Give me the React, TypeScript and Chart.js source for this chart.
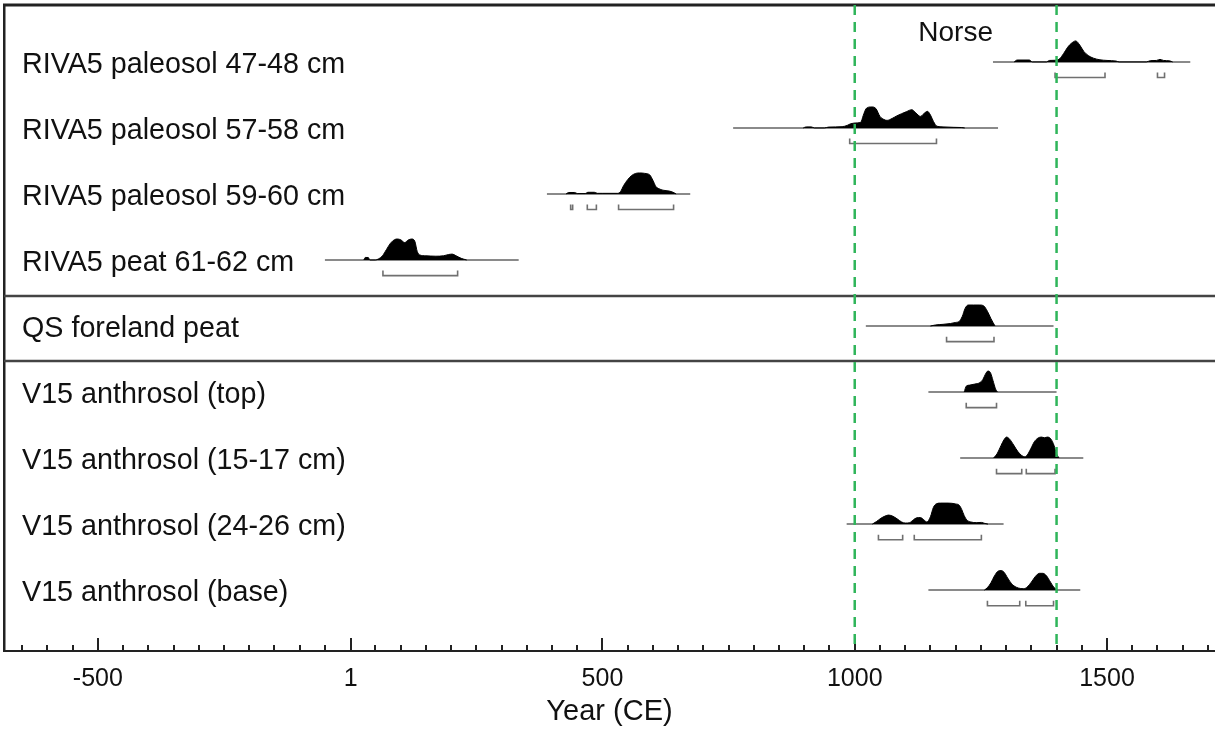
import React, { useEffect, useRef } from 'react';
import { Chart, registerables } from 'chart.js';

Chart.register(...registerables);

const FONT = '"Liberation Sans", Arial, Helvetica, sans-serif';

// ---- axis ----
const X_MIN = -686;
const X_MAX = 1714;
const MAJOR_TICKS = [-500, 1, 500, 1000, 1500];
const MINOR_TICK_START = -650;
const MINOR_TICK_END = 1700;
const MINOR_TICK_STEP = 50;
const X_TITLE = 'Year (CE)';

// ---- rows ----
const ROW_LABELS = [
  'RIVA5 paleosol 47-48 cm',
  'RIVA5 paleosol 57-58 cm',
  'RIVA5 paleosol 59-60 cm',
  'RIVA5 peat 61-62 cm',
  'QS foreland peat',
  'V15 anthrosol (top)',
  'V15 anthrosol (15-17 cm)',
  'V15 anthrosol (24-26 cm)',
  'V15 anthrosol (base)',
];
const Y_MIN = -0.862;
const Y_MAX = 8.922;
const GROUP_BREAKS = [3.54, 4.53];

// ---- Norse period ----
const NORSE_START = 1000;
const NORSE_END = 1400;
const NORSE_LABEL = 'Norse';
const NORSE_LABEL_ROW = -0.44;

// ---- extent of each calibration (grey line) ----
const RANGE_START = [1274, 759, 390, -50, 1022, 1146, 1209, 984, 1146];
const RANGE_END = [1665, 1284, 674, 334, 1394, 1400, 1453, 1295, 1447];

// ---- probability distributions (year, relative density) ----
const YEARS_R0 = [1316, 1322, 1346, 1352, 1380, 1386, 1400, 1406, 1414, 1422, 1430, 1438, 1446, 1454, 1463, 1473, 1486, 1500, 1518, 1524, 1578, 1586, 1598, 1605, 1612, 1624, 1630];
const DENS_R0 = [0, 0.09, 0.09, 0, 0, 0.07, 0.08, 0.15, 0.4, 0.7, 0.9, 1.0, 0.8, 0.5, 0.3, 0.18, 0.1, 0.07, 0.04, 0, 0, 0.06, 0.07, 0.12, 0.07, 0.05, 0];

const YEARS_R1 = [898, 904, 914, 920, 940, 948, 975, 985, 992, 1005, 1012, 1017, 1022, 1028, 1034, 1042, 1050, 1058, 1064, 1074, 1083, 1093, 1103, 1113, 1121, 1130, 1137, 1144, 1150, 1156, 1163, 1175, 1195, 1212, 1218];
const DENS_R1 = [0, 0.05, 0.05, 0, 0, 0.04, 0.06, 0.12, 0.2, 0.24, 0.27, 0.6, 0.9, 0.99, 1.0, 0.92, 0.55, 0.4, 0.36, 0.45, 0.57, 0.68, 0.78, 0.87, 0.72, 0.55, 0.68, 0.79, 0.62, 0.31, 0.08, 0.05, 0.03, 0.02, 0];

const YEARS_R2 = [428, 433, 445, 450, 466, 471, 484, 490, 500, 530, 536, 542, 550, 558, 566, 574, 584, 594, 600, 606, 612, 620, 632, 640, 646];
const DENS_R2 = [0, 0.07, 0.07, 0.02, 0.02, 0.08, 0.08, 0.03, 0.03, 0.03, 0.12, 0.4, 0.68, 0.88, 0.98, 1.0, 0.98, 0.9, 0.65, 0.35, 0.25, 0.18, 0.14, 0.08, 0];

const YEARS_R3 = [27, 30, 36, 39, 50, 56, 64, 72, 80, 88, 94, 101, 108, 115, 122, 128, 133, 138, 150, 170, 185, 195, 202, 210, 220, 231];
const DENS_R3 = [0, 0.12, 0.12, 0, 0, 0.05, 0.2, 0.5, 0.8, 0.97, 1.0, 0.95, 0.83, 0.95, 1.0, 0.9, 0.4, 0.24, 0.2, 0.18, 0.2, 0.26, 0.28, 0.2, 0.08, 0];

const YEARS_R4 = [1150, 1160, 1175, 1190, 1200, 1207, 1213, 1219, 1225, 1235, 1248, 1256, 1263, 1270, 1278];
const DENS_R4 = [0, 0.05, 0.08, 0.12, 0.17, 0.22, 0.45, 0.85, 1.0, 1.0, 1.0, 0.95, 0.7, 0.35, 0];

const YEARS_R5 = [1217, 1221, 1228, 1238, 1248, 1254, 1259, 1264, 1269, 1274, 1279, 1283];
const DENS_R5 = [0, 0.28, 0.33, 0.38, 0.45, 0.6, 0.85, 1.0, 0.92, 0.55, 0.15, 0];

const YEARS_R6 = [1275, 1282, 1290, 1296, 1301, 1307, 1315, 1323, 1331, 1337, 1342, 1349, 1356, 1363, 1370, 1376, 1382, 1389, 1395, 1400, 1405];
const DENS_R6 = [0, 0.2, 0.6, 0.88, 1.0, 0.9, 0.62, 0.32, 0.12, 0.06, 0.15, 0.45, 0.78, 0.95, 1.0, 0.97, 1.0, 0.9, 0.6, 0.2, 0];

const YEARS_R7 = [1035, 1043, 1052, 1060, 1067, 1075, 1084, 1093, 1100, 1108, 1116, 1123, 1130, 1137, 1143, 1150, 1156, 1162, 1170, 1185, 1200, 1207, 1212, 1217, 1222, 1230, 1242, 1251, 1258, 1264];
const DENS_R7 = [0, 0.12, 0.28, 0.38, 0.43, 0.38, 0.25, 0.1, 0.05, 0.06, 0.2, 0.3, 0.31, 0.2, 0.1, 0.35, 0.8, 0.97, 1.0, 1.0, 0.96, 0.9, 0.7, 0.4, 0.2, 0.1, 0.07, 0.08, 0.03, 0];

const YEARS_R8 = [1257, 1263, 1270, 1277, 1284, 1290, 1296, 1303, 1311, 1320, 1328, 1335, 1342, 1350, 1358, 1366, 1373, 1380, 1388, 1395, 1402];
const DENS_R8 = [0, 0.12, 0.35, 0.68, 0.9, 0.93, 0.85, 0.58, 0.3, 0.14, 0.08, 0.07, 0.15, 0.38, 0.65, 0.8, 0.8, 0.68, 0.38, 0.12, 0];

// ---- highest posterior density ranges (brackets) ----
const BR_R0 = [[1397, 1496], [1600, 1614]];
const BR_R1 = [[990, 1162]];
const BR_R2 = [[437, 441], [470, 488], [532, 641]];
const BR_R3 = [[65, 213]];
const BR_R4 = [[1182, 1276]];
const BR_R5 = [[1221, 1281]];
const BR_R6 = [[1281, 1331], [1340, 1397]];
const BR_R7 = [[1047, 1095], [1118, 1251]];
const BR_R8 = [[1263, 1327], [1339, 1394]];

const ROW_YEARS = [YEARS_R0, YEARS_R1, YEARS_R2, YEARS_R3, YEARS_R4, YEARS_R5, YEARS_R6, YEARS_R7, YEARS_R8];
const ROW_DENS = [DENS_R0, DENS_R1, DENS_R2, DENS_R3, DENS_R4, DENS_R5, DENS_R6, DENS_R7, DENS_R8];
const ROW_BRACKETS = [BR_R0, BR_R1, BR_R2, BR_R3, BR_R4, BR_R5, BR_R6, BR_R7, BR_R8];

// style constants (row units)
const DENS_HEIGHT = 0.318;
const BRACKET_DROP = 0.236;
const BRACKET_TICK = 0.075;

function buildDatasets() {
  const ds: any[] = [];
  ROW_LABELS.forEach((_, i) => {
    ds.push({
      label: 'dist' + i,
      data: ROW_YEARS[i].map((x, j) => ({ x, y: i - ROW_DENS[i][j] * DENS_HEIGHT })),
      fill: { value: i },
      backgroundColor: '#000',
      borderColor: '#000',
      borderWidth: 1,
      pointRadius: 0,
      cubicInterpolationMode: 'monotone',
      order: 1,
    });
    ds.push({
      label: 'range' + i,
      data: [
        { x: RANGE_START[i], y: i },
        { x: RANGE_END[i], y: i },
      ],
      borderColor: '#8a8a8a',
      borderWidth: 2,
      pointRadius: 0,
      fill: false,
      order: 3,
    });
    const pts: any[] = [];
    ROW_BRACKETS[i].forEach(([a, b], k) => {
      if (k > 0) pts.push({ x: a, y: null });
      pts.push({ x: a, y: i + BRACKET_DROP - BRACKET_TICK });
      pts.push({ x: a, y: i + BRACKET_DROP });
      pts.push({ x: b, y: i + BRACKET_DROP });
      pts.push({ x: b, y: i + BRACKET_DROP - BRACKET_TICK });
    });
    ds.push({
      label: 'hpd' + i,
      data: pts,
      borderColor: '#707070',
      borderWidth: 1.6,
      pointRadius: 0,
      fill: false,
      spanGaps: false,
      order: 2,
    });
  });
  [NORSE_START, NORSE_END].forEach((yr, k) => {
    ds.push({
      label: 'norse' + k,
      data: [
        { x: yr, y: Y_MIN },
        { x: yr, y: Y_MAX },
      ],
      borderColor: '#2fb55a',
      borderWidth: 2.5,
      borderDash: [10, 7],
      pointRadius: 0,
      fill: false,
      order: 0,
    });
  });
  return ds;
}

const TICK_VALUES: number[] = (() => {
  const vals: number[] = [];
  for (let v = MINOR_TICK_START; v <= MINOR_TICK_END; v += MINOR_TICK_STEP) {
    if (v % 500 === 0) continue;
    vals.push(v);
  }
  return vals.concat(MAJOR_TICKS).sort((a, b) => a - b);
})();

const framePlugin = {
  id: 'frame',
  beforeDatasetsDraw(chart: any) {
    const { ctx, chartArea: a, scales } = chart;
    const x = scales.x;
    const y = scales.y;
    ctx.save();
    // top border
    ctx.strokeStyle = '#222';
    ctx.lineWidth = 3;
    ctx.beginPath();
    ctx.moveTo(a.left - 1, a.top);
    ctx.lineTo(a.right, a.top);
    ctx.stroke();
    // group dividers
    ctx.strokeStyle = '#444';
    ctx.lineWidth = 2.5;
    GROUP_BREAKS.forEach((v) => {
      const py = Math.round(y.getPixelForValue(v));
      ctx.beginPath();
      ctx.moveTo(a.left, py);
      ctx.lineTo(a.right, py);
      ctx.stroke();
    });
    // inward tick marks
    ctx.strokeStyle = '#222';
    ctx.lineWidth = 2;
    x.ticks.forEach((t: any) => {
      const px = Math.round(x.getPixelForValue(t.value));
      const len = MAJOR_TICKS.includes(t.value) ? 13 : 6;
      ctx.beginPath();
      ctx.moveTo(px, a.bottom);
      ctx.lineTo(px, a.bottom - len);
      ctx.stroke();
    });
    // Norse label
    ctx.fillStyle = '#111';
    ctx.font = `28px ${FONT}`;
    ctx.textAlign = 'center';
    ctx.textBaseline = 'middle';
    ctx.fillText(
      NORSE_LABEL,
      x.getPixelForValue((NORSE_START + NORSE_END) / 2),
      y.getPixelForValue(NORSE_LABEL_ROW)
    );
    ctx.restore();
  },
};

export default function App() {
  const ref = useRef<HTMLCanvasElement | null>(null);
  useEffect(() => {
    document.body.style.margin = '0';
    const canvas = ref.current;
    if (!canvas) return;
    const chart = new Chart(canvas, {
      type: 'line',
      data: { datasets: buildDatasets() },
      plugins: [framePlugin],
      options: {
        animation: false,
        responsive: false,
        devicePixelRatio: 1,
        layout: { padding: { top: 5, left: 0, right: 0, bottom: 0 } },
        plugins: { legend: { display: false }, tooltip: { enabled: false } },
        scales: {
          x: {
            type: 'linear',
            min: X_MIN,
            max: X_MAX,
            afterBuildTicks: (s: any) => {
              s.ticks = TICK_VALUES.map((v) => ({ value: v }));
            },
            afterFit: (s: any) => {
              s.height = 84;
              s.paddingLeft = 0;
              s.paddingRight = 0;
            },
            grid: { display: false, drawTicks: false },
            border: { display: true, color: '#222', width: 2 },
            ticks: {
              autoSkip: false,
              maxRotation: 0,
              minRotation: 0,
              padding: 13,
              color: '#111',
              font: { family: FONT, size: 25 },
              callback: (v: any) => (MAJOR_TICKS.includes(v) ? String(v) : ''),
            },
            title: {
              display: true,
              text: X_TITLE,
              color: '#111',
              font: { family: FONT, size: 29 },
              padding: { top: 0, bottom: 6 },
            },
          },
          y: {
            type: 'linear',
            reverse: true,
            min: Y_MIN,
            max: Y_MAX,
            afterBuildTicks: (s: any) => {
              s.ticks = ROW_LABELS.map((_, i) => ({ value: i }));
            },
            afterFit: (s: any) => {
              s.width = 4;
              s.paddingTop = 0;
              s.paddingBottom = 0;
            },
            grid: { display: false, drawTicks: false },
            border: { display: true, color: '#222', width: 2.5 },
            ticks: {
              mirror: true,
              padding: 18,
              labelOffset: 3,
              color: '#111',
              autoSkip: false,
              font: { family: FONT, size: 28.7 },
              callback: (v: any) => ROW_LABELS[v] ?? '',
            },
          },
        },
      } as any,
    });
    return () => chart.destroy();
  }, []);
  return (
    <div style={{ width: 1215, height: 735 }}>
      <canvas ref={ref} width={1215} height={735} />
    </div>
  );
}
